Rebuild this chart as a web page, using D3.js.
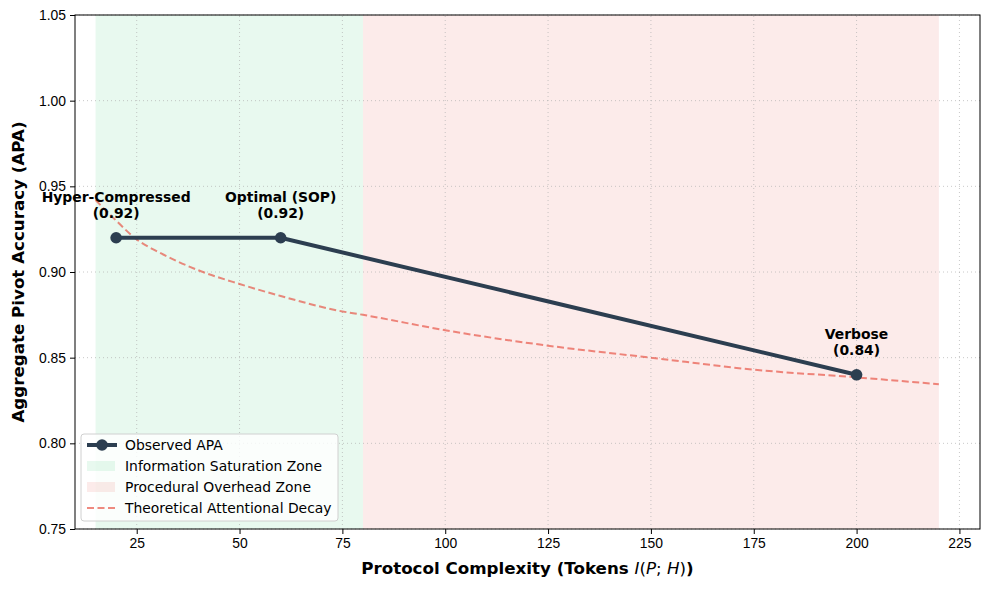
<!DOCTYPE html>
<meta charset="utf-8">
<title>APA vs protocol complexity</title>
<style>
body { margin: 0; background: #fff; }
svg { font-family: "DejaVu Sans", sans-serif; }
.grid line { stroke: #b0b0b0; stroke-dasharray: 1,3; stroke-opacity: 0.7; }
.axis text { font-size: 13.9px; fill: #000; }
.axis path, .axis line { stroke: #000; }
</style>
<body>
<script src="https://cdnjs.cloudflare.com/ajax/libs/d3/7.8.5/d3.min.js"></script>
<script>

// observed points
var obsX = [20, 60, 200],
    obsY = [0.92, 0.92, 0.84],
    obsLabels = ["Hyper-Compressed", "Optimal (SOP)", "Verbose"];

// theoretical decay curve
var decayX = [15, 20, 25, 30, 40, 50, 60, 75, 80, 100, 125, 150, 175, 200, 220],
    decayY = [0.942, 0.930, 0.919, 0.912, 0.901, 0.893, 0.886, 0.877, 0.875, 0.866, 0.857, 0.850, 0.843, 0.8385, 0.8345];

// zones
var zones = [
  {name: "Information Saturation Zone", from: 15, to: 80, color: "#2ecc71"},
  {name: "Procedural Overhead Zone", from: 80, to: 220, color: "#e74c3c"}
];

var xTicks = [25, 50, 75, 100, 125, 150, 175, 200, 225],
    yTicks = [0.75, 0.80, 0.85, 0.90, 0.95, 1.00, 1.05];

var width = 989, height = 590;
var margin = {left: 75, right: 9, top: 15, bottom: 61};

var svg = d3.select("body").append("svg")
    .attr("width", width)
    .attr("height", height);

var x = d3.scaleLinear().domain([10, 230]).range([margin.left, width - margin.right]);
var y = d3.scaleLinear().domain([0.75, 1.05]).range([height - margin.bottom, margin.top]);

// zones
svg.selectAll("rect.zone")
    .data(zones)
  .enter().append("rect")
    .attr("class", "zone")
    .attr("x", function(d) { return x(d.from); })
    .attr("width", function(d) { return x(d.to) - x(d.from); })
    .attr("y", y(1.05))
    .attr("height", y(0.75) - y(1.05))
    .attr("fill", function(d) { return d.color; })
    .attr("fill-opacity", 0.11);

// grid
var grid = svg.append("g").attr("class", "grid");
grid.selectAll("line.gx").data(xTicks).enter().append("line")
    .attr("x1", x).attr("x2", x)
    .attr("y1", y(0.75)).attr("y2", y(1.05));
grid.selectAll("line.gy").data(yTicks).enter().append("line")
    .attr("x1", x(10)).attr("x2", x(230))
    .attr("y1", y).attr("y2", y);

// decay curve
var decay = decayX.map(function(d, i) { return [d, decayY[i]]; });
svg.append("path")
    .datum(decay)
    .attr("fill", "none")
    .attr("stroke", "#e74c3c")
    .attr("stroke-opacity", 0.65)
    .attr("stroke-width", 2)
    .attr("stroke-dasharray", "7,3.5")
    .attr("d", d3.line()
      .x(function(d) { return x(d[0]); })
      .y(function(d) { return y(d[1]); })
      .curve(d3.curveMonotoneX));

// observed line
var obs = obsX.map(function(d, i) { return [d, obsY[i], obsLabels[i]]; });
svg.append("path")
    .datum(obs)
    .attr("fill", "none")
    .attr("stroke", "#2c3e50")
    .attr("stroke-width", 4)
    .attr("d", d3.line()
      .x(function(d) { return x(d[0]); })
      .y(function(d) { return y(d[1]); }));

svg.selectAll("circle.obs")
    .data(obs)
  .enter().append("circle")
    .attr("cx", function(d) { return x(d[0]); })
    .attr("cy", function(d) { return y(d[1]); })
    .attr("r", 5.8)
    .attr("fill", "#2c3e50");

// annotations
var ann = svg.selectAll("text.ann")
    .data(obs)
  .enter().append("text")
    .attr("text-anchor", "middle")
    .attr("font-size", "13.9px")
    .attr("font-weight", "bold")
    .attr("x", function(d) { return x(d[0]); })
    .attr("y", function(d) { return y(d[1]) - 36; });
ann.append("tspan").text(function(d) { return d[2]; });
ann.append("tspan")
    .attr("x", function(d) { return x(d[0]); })
    .attr("dy", 16)
    .text(function(d) { return "(" + d[1].toFixed(2) + ")"; });

// axes
svg.append("g")
    .attr("class", "axis")
    .attr("transform", "translate(0," + y(0.75) + ")")
    .call(d3.axisBottom(x).tickValues(xTicks).tickSize(5).tickPadding(4).tickFormat(d3.format("d")));
svg.append("g")
    .attr("class", "axis")
    .attr("transform", "translate(" + x(10) + ",0)")
    .call(d3.axisLeft(y).tickValues(yTicks).tickSize(5).tickPadding(4).tickFormat(d3.format(".2f")));
svg.append("rect")
    .attr("x", x(10)).attr("y", y(1.05))
    .attr("width", x(230) - x(10)).attr("height", y(0.75) - y(1.05))
    .attr("fill", "none").attr("stroke", "#000");
svg.selectAll(".axis .domain").remove();

// axis labels
var xl = svg.append("text")
    .attr("x", (x(10) + x(230)) / 2)
    .attr("y", 574)
    .attr("text-anchor", "middle")
    .attr("font-size", "16.7px")
    .attr("font-weight", "bold");
xl.append("tspan").text("Protocol Complexity (Tokens ");
xl.append("tspan").attr("font-style", "italic").attr("font-weight", "normal").text("I");
xl.append("tspan").attr("font-weight", "normal").text("(");
xl.append("tspan").attr("font-style", "italic").attr("font-weight", "normal").text("P");
xl.append("tspan").attr("font-weight", "normal").text("; ");
xl.append("tspan").attr("font-style", "italic").attr("font-weight", "normal").text("H");
xl.append("tspan").attr("font-weight", "normal").text(")");
xl.append("tspan").text(")");

svg.append("text")
    .attr("transform", "translate(24," + (y(0.75) + y(1.05)) / 2 + ") rotate(-90)")
    .attr("text-anchor", "middle")
    .attr("font-size", "16.7px")
    .attr("font-weight", "bold")
    .text("Aggregate Pivot Accuracy (APA)");

// legend
var lg = svg.append("g").attr("transform", "translate(81,434)");
lg.append("rect")
    .attr("width", 257).attr("height", 87)
    .attr("rx", 3)
    .attr("fill", "#fff").attr("fill-opacity", 0.8)
    .attr("stroke", "#d0d0d0");
var items = [
  {label: "Observed APA", type: "line"},
  {label: zones[0].name, type: "zone", color: zones[0].color},
  {label: zones[1].name, type: "zone", color: zones[1].color},
  {label: "Theoretical Attentional Decay", type: "dash"}
];
var row = lg.selectAll("g.item").data(items).enter().append("g")
    .attr("transform", function(d, i) { return "translate(0," + (11 + i * 21) + ")"; });
row.each(function(d) {
  var g = d3.select(this);
  if (d.type === "line") {
    g.append("line").attr("x1", 6).attr("x2", 36).attr("stroke", "#2c3e50").attr("stroke-width", 4);
    g.append("circle").attr("cx", 21).attr("r", 5.8).attr("fill", "#2c3e50");
  } else if (d.type === "zone") {
    g.append("rect").attr("x", 6).attr("y", -5).attr("width", 28).attr("height", 10)
      .attr("fill", d.color).attr("fill-opacity", 0.11);
  } else {
    g.append("line").attr("x1", 6).attr("x2", 36).attr("stroke", "#e74c3c")
      .attr("stroke-opacity", 0.65).attr("stroke-width", 2).attr("stroke-dasharray", "7,3.5");
  }
  g.append("text").attr("x", 44).attr("y", 5).attr("font-size", "13.9px").text(d.label);
});

</script>
